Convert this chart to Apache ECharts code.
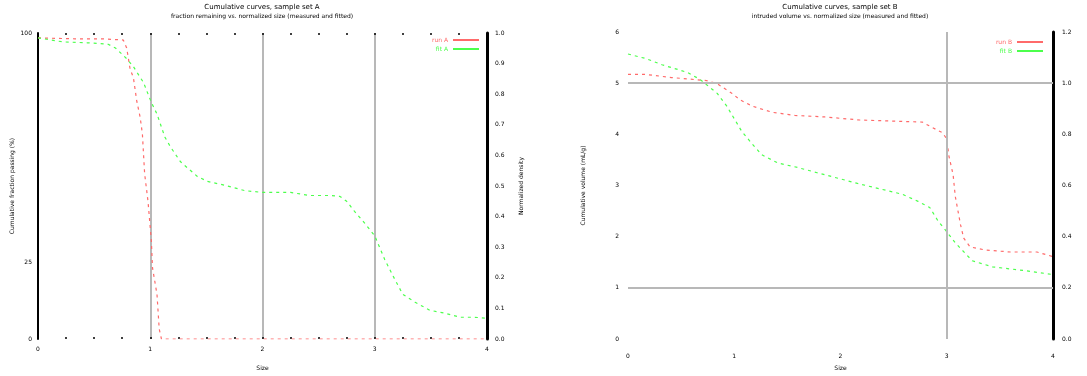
<!DOCTYPE html>
<html>
<head>
<meta charset="utf-8">
<script src="https://cdn.jsdelivr.net/npm/echarts@6/dist/echarts.min.js"></script>
<style>
  html, body { margin: 0; padding: 0; background: #fff; }
  #chart { width: 1087px; height: 376px; }
</style>
</head>
<body>
<div id="chart"></div>
<script>
// left panel: size (0..4) vs cumulative percent
var sizeA_meas = [0, 0.33, 0.58, 0.76, 0.79, 0.8, 0.82, 0.85, 0.88, 0.91, 0.93, 0.95, 0.98, 1.01, 1.02, 1.06, 1.08, 1.1, 1.33, 4.0];
var pctA_meas = [98.4, 98.1, 98.1, 97.7, 95.1, 92.9, 88.3, 85.4, 77.7, 72.5, 67.0, 54.0, 45.0, 32.0, 23.3, 14.6, 3.2, 0, 0, 0];
var sizeA_fit = [0, 0.22, 0.44, 0.62, 0.69, 0.79, 0.85, 0.94, 1.01, 1.06, 1.13, 1.18, 1.27, 1.42, 1.51, 1.67, 1.84, 2.0, 2.25, 2.42, 2.6, 2.69, 2.75, 2.82, 2.91, 3.0, 3.09, 3.18, 3.25, 3.36, 3.49, 3.63, 3.76, 3.89, 4.0];
var pctA_fit = [98.4, 97.1, 96.8, 96.4, 95.1, 91.6, 89.0, 83.8, 77.3, 73.5, 66.0, 62.8, 57.9, 53.1, 51.5, 50.2, 48.5, 47.9, 47.9, 46.9, 46.9, 46.6, 45.0, 41.7, 37.9, 33.7, 25.9, 19.4, 14.6, 12.0, 9.4, 8.4, 7.1, 7.1, 6.8];

// right panel: size (0..4) vs cumulative volume
var sizeB_meas = [0, 0.17, 0.41, 0.74, 0.84, 0.89, 0.98, 1.05, 1.17, 1.36, 1.57, 1.85, 2.18, 2.77, 2.84, 2.96, 3.0, 3.02, 3.06, 3.08, 3.13, 3.16, 3.22, 3.36, 3.6, 3.85, 4.0];
var volB_meas = [5.17, 5.17, 5.11, 5.05, 4.99, 4.92, 4.8, 4.68, 4.55, 4.43, 4.37, 4.34, 4.28, 4.24, 4.16, 4.03, 3.91, 3.58, 3.21, 2.79, 2.23, 1.97, 1.8, 1.74, 1.7, 1.7, 1.61];
var sizeB_fit = [0, 0.17, 0.32, 0.56, 0.68, 0.84, 0.93, 1.07, 1.17, 1.26, 1.41, 1.6, 1.78, 1.98, 2.16, 2.36, 2.58, 2.73, 2.84, 2.92, 2.98, 3.08, 3.24, 3.43, 3.72, 4.0];
var volB_fit = [5.57, 5.48, 5.36, 5.21, 5.07, 4.8, 4.55, 4.06, 3.81, 3.6, 3.44, 3.35, 3.25, 3.14, 3.04, 2.94, 2.83, 2.69, 2.57, 2.3, 2.15, 1.88, 1.53, 1.41, 1.34, 1.26];

var leftYLabels = [0, 25, 100];   // only these get a label on the left axis
var gridB_y = [1, 5];             // horizontal grid lines, right panel
var gridB_x = [3];                // vertical grid line, right panel

var RED = '#ff6a6a';
var GREEN = '#4cff4c';
var FONT = 'DejaVu Sans';

function zip(xs, ys) {
  return xs.map(function (x, i) { return [x, ys[i]]; });
}

var txt = { fontFamily: FONT, fontSize: 6, color: '#000' };
var dotTick = { show: true, inside: true, length: 2, lineStyle: { color: '#000', width: 1.5 } };
var dotMinor = { show: true, splitNumber: 4, length: 2, lineStyle: { color: '#000', width: 1.5 } };

var myChart = echarts.init(document.getElementById('chart'));

var option = {
  animation: false,
  backgroundColor: '#fff',
  title: [
    {
      text: 'Cumulative curves, sample set A',
      subtext: 'fraction remaining vs. normalized size (measured and fitted)',
      left: 262, top: 4, textAlign: 'center', itemGap: 2, padding: 0,
      textStyle: { fontFamily: FONT, fontSize: 7, fontWeight: 'normal', color: '#000' },
      subtextStyle: { fontFamily: FONT, fontSize: 6, color: '#000' }
    },
    {
      text: 'Cumulative curves, sample set B',
      subtext: 'intruded volume vs. normalized size (measured and fitted)',
      left: 840, top: 4, textAlign: 'center', itemGap: 2, padding: 0,
      textStyle: { fontFamily: FONT, fontSize: 7, fontWeight: 'normal', color: '#000' },
      subtextStyle: { fontFamily: FONT, fontSize: 6, color: '#000' }
    }
  ],
  legend: [
    {
      orient: 'vertical', align: 'right', right: 608, top: 37,
      itemWidth: 26, itemHeight: 2, itemGap: 3, padding: 0, icon: 'rect',
      textStyle: { fontFamily: FONT, fontSize: 6 },
      data: [
        { name: 'run A', textStyle: { color: RED } },
        { name: 'fit A', textStyle: { color: GREEN } }
      ]
    },
    {
      orient: 'vertical', align: 'right', right: 44, top: 39,
      itemWidth: 26, itemHeight: 2, itemGap: 3, padding: 0, icon: 'rect',
      textStyle: { fontFamily: FONT, fontSize: 6 },
      data: [
        { name: 'run B', textStyle: { color: RED } },
        { name: 'fit B', textStyle: { color: GREEN } }
      ]
    }
  ],
  grid: [
    { left: 38, right: 600, top: 33, bottom: 34 },
    { left: 628, right: 34, top: 32, bottom: 35 }
  ],
  xAxis: [
    {
      gridIndex: 0, type: 'value', min: 0, max: 4, interval: 1,
      name: 'Size', nameLocation: 'middle', nameGap: 26, nameTextStyle: txt,
      axisLine: { show: false, onZero: false },
      axisTick: dotTick, minorTick: dotMinor,
      axisLabel: Object.assign({ margin: 7 }, txt),
      splitLine: { show: true, lineStyle: { color: '#b8b8b8', width: 2 } }
    },
    {
      gridIndex: 0, type: 'value', position: 'top', min: 0, max: 4, interval: 1,
      axisLine: { show: false, onZero: false },
      axisTick: dotTick, minorTick: dotMinor,
      axisLabel: { show: false },
      splitLine: { show: false }
    },
    {
      gridIndex: 1, type: 'value', min: 0, max: 4, interval: 1,
      name: 'Size', nameLocation: 'middle', nameGap: 26, nameTextStyle: txt,
      axisLine: { show: false, onZero: false },
      axisTick: { show: false },
      axisLabel: Object.assign({ margin: 14 }, txt),
      splitLine: { show: false }
    }
  ],
  yAxis: [
    {
      gridIndex: 0, type: 'value', min: 0, max: 100, interval: 25,
      name: 'Cumulative fraction passing (%)', nameLocation: 'middle', nameGap: 23, nameTextStyle: txt,
      axisLine: { show: true, onZero: false, lineStyle: { color: '#000', width: 2 } },
      axisTick: { show: false },
      axisLabel: Object.assign({
        margin: 6,
        formatter: function (v) { return leftYLabels.indexOf(v) >= 0 ? String(v) : ''; }
      }, txt),
      splitLine: { show: false }
    },
    {
      gridIndex: 0, type: 'value', position: 'right', min: 0, max: 1, interval: 0.1,
      name: 'Normalized density', nameLocation: 'middle', nameGap: 31, nameTextStyle: txt,
      axisLine: { show: true, onZero: false, lineStyle: { color: '#000', width: 3 } },
      axisTick: { show: false },
      axisLabel: Object.assign({ margin: 8, formatter: function (v) { return v.toFixed(1); } }, txt),
      splitLine: { show: false }
    },
    {
      gridIndex: 1, type: 'value', min: 0, max: 6, interval: 1,
      name: 'Cumulative volume (mL/g)', nameLocation: 'middle', nameGap: 42, nameTextStyle: txt,
      axisLine: { show: false, onZero: false },
      axisTick: { show: false },
      axisLabel: Object.assign({ margin: 9 }, txt),
      splitLine: { show: false }
    },
    {
      gridIndex: 1, type: 'value', position: 'right', min: 0, max: 1.2, interval: 0.2,
      axisLine: { show: true, onZero: false, lineStyle: { color: '#000', width: 3 } },
      axisTick: { show: false },
      axisLabel: Object.assign({ margin: 9, formatter: function (v) { return v.toFixed(1); } }, txt),
      splitLine: { show: false }
    }
  ],
  series: [
    {
      name: 'run A', type: 'line', xAxisIndex: 0, yAxisIndex: 0,
      data: zip(sizeA_meas, pctA_meas), showSymbol: false, symbol: 'none',
      lineStyle: { color: RED, width: 1.2, type: [3, 4] }, itemStyle: { color: RED }
    },
    {
      name: 'fit A', type: 'line', xAxisIndex: 0, yAxisIndex: 0,
      data: zip(sizeA_fit, pctA_fit), showSymbol: false, symbol: 'none',
      lineStyle: { color: GREEN, width: 1.2, type: [3, 4] }, itemStyle: { color: GREEN }
    },
    {
      name: 'run B', type: 'line', xAxisIndex: 2, yAxisIndex: 2,
      data: zip(sizeB_meas, volB_meas), showSymbol: false, symbol: 'none',
      lineStyle: { color: RED, width: 1.2, type: [3, 4] }, itemStyle: { color: RED },
      markLine: {
        silent: true, symbol: 'none', label: { show: false },
        lineStyle: { color: '#b8b8b8', width: 2, type: 'solid' },
        data: gridB_y.map(function (v) { return { yAxis: v }; })
          .concat(gridB_x.map(function (v) { return { xAxis: v }; }))
      },
      z: 3
    },
    {
      name: 'fit B', type: 'line', xAxisIndex: 2, yAxisIndex: 2,
      data: zip(sizeB_fit, volB_fit), showSymbol: false, symbol: 'none',
      lineStyle: { color: GREEN, width: 1.2, type: [3, 4] }, itemStyle: { color: GREEN }
    }
  ]
};

myChart.setOption(option);
</script>
</body>
</html>
